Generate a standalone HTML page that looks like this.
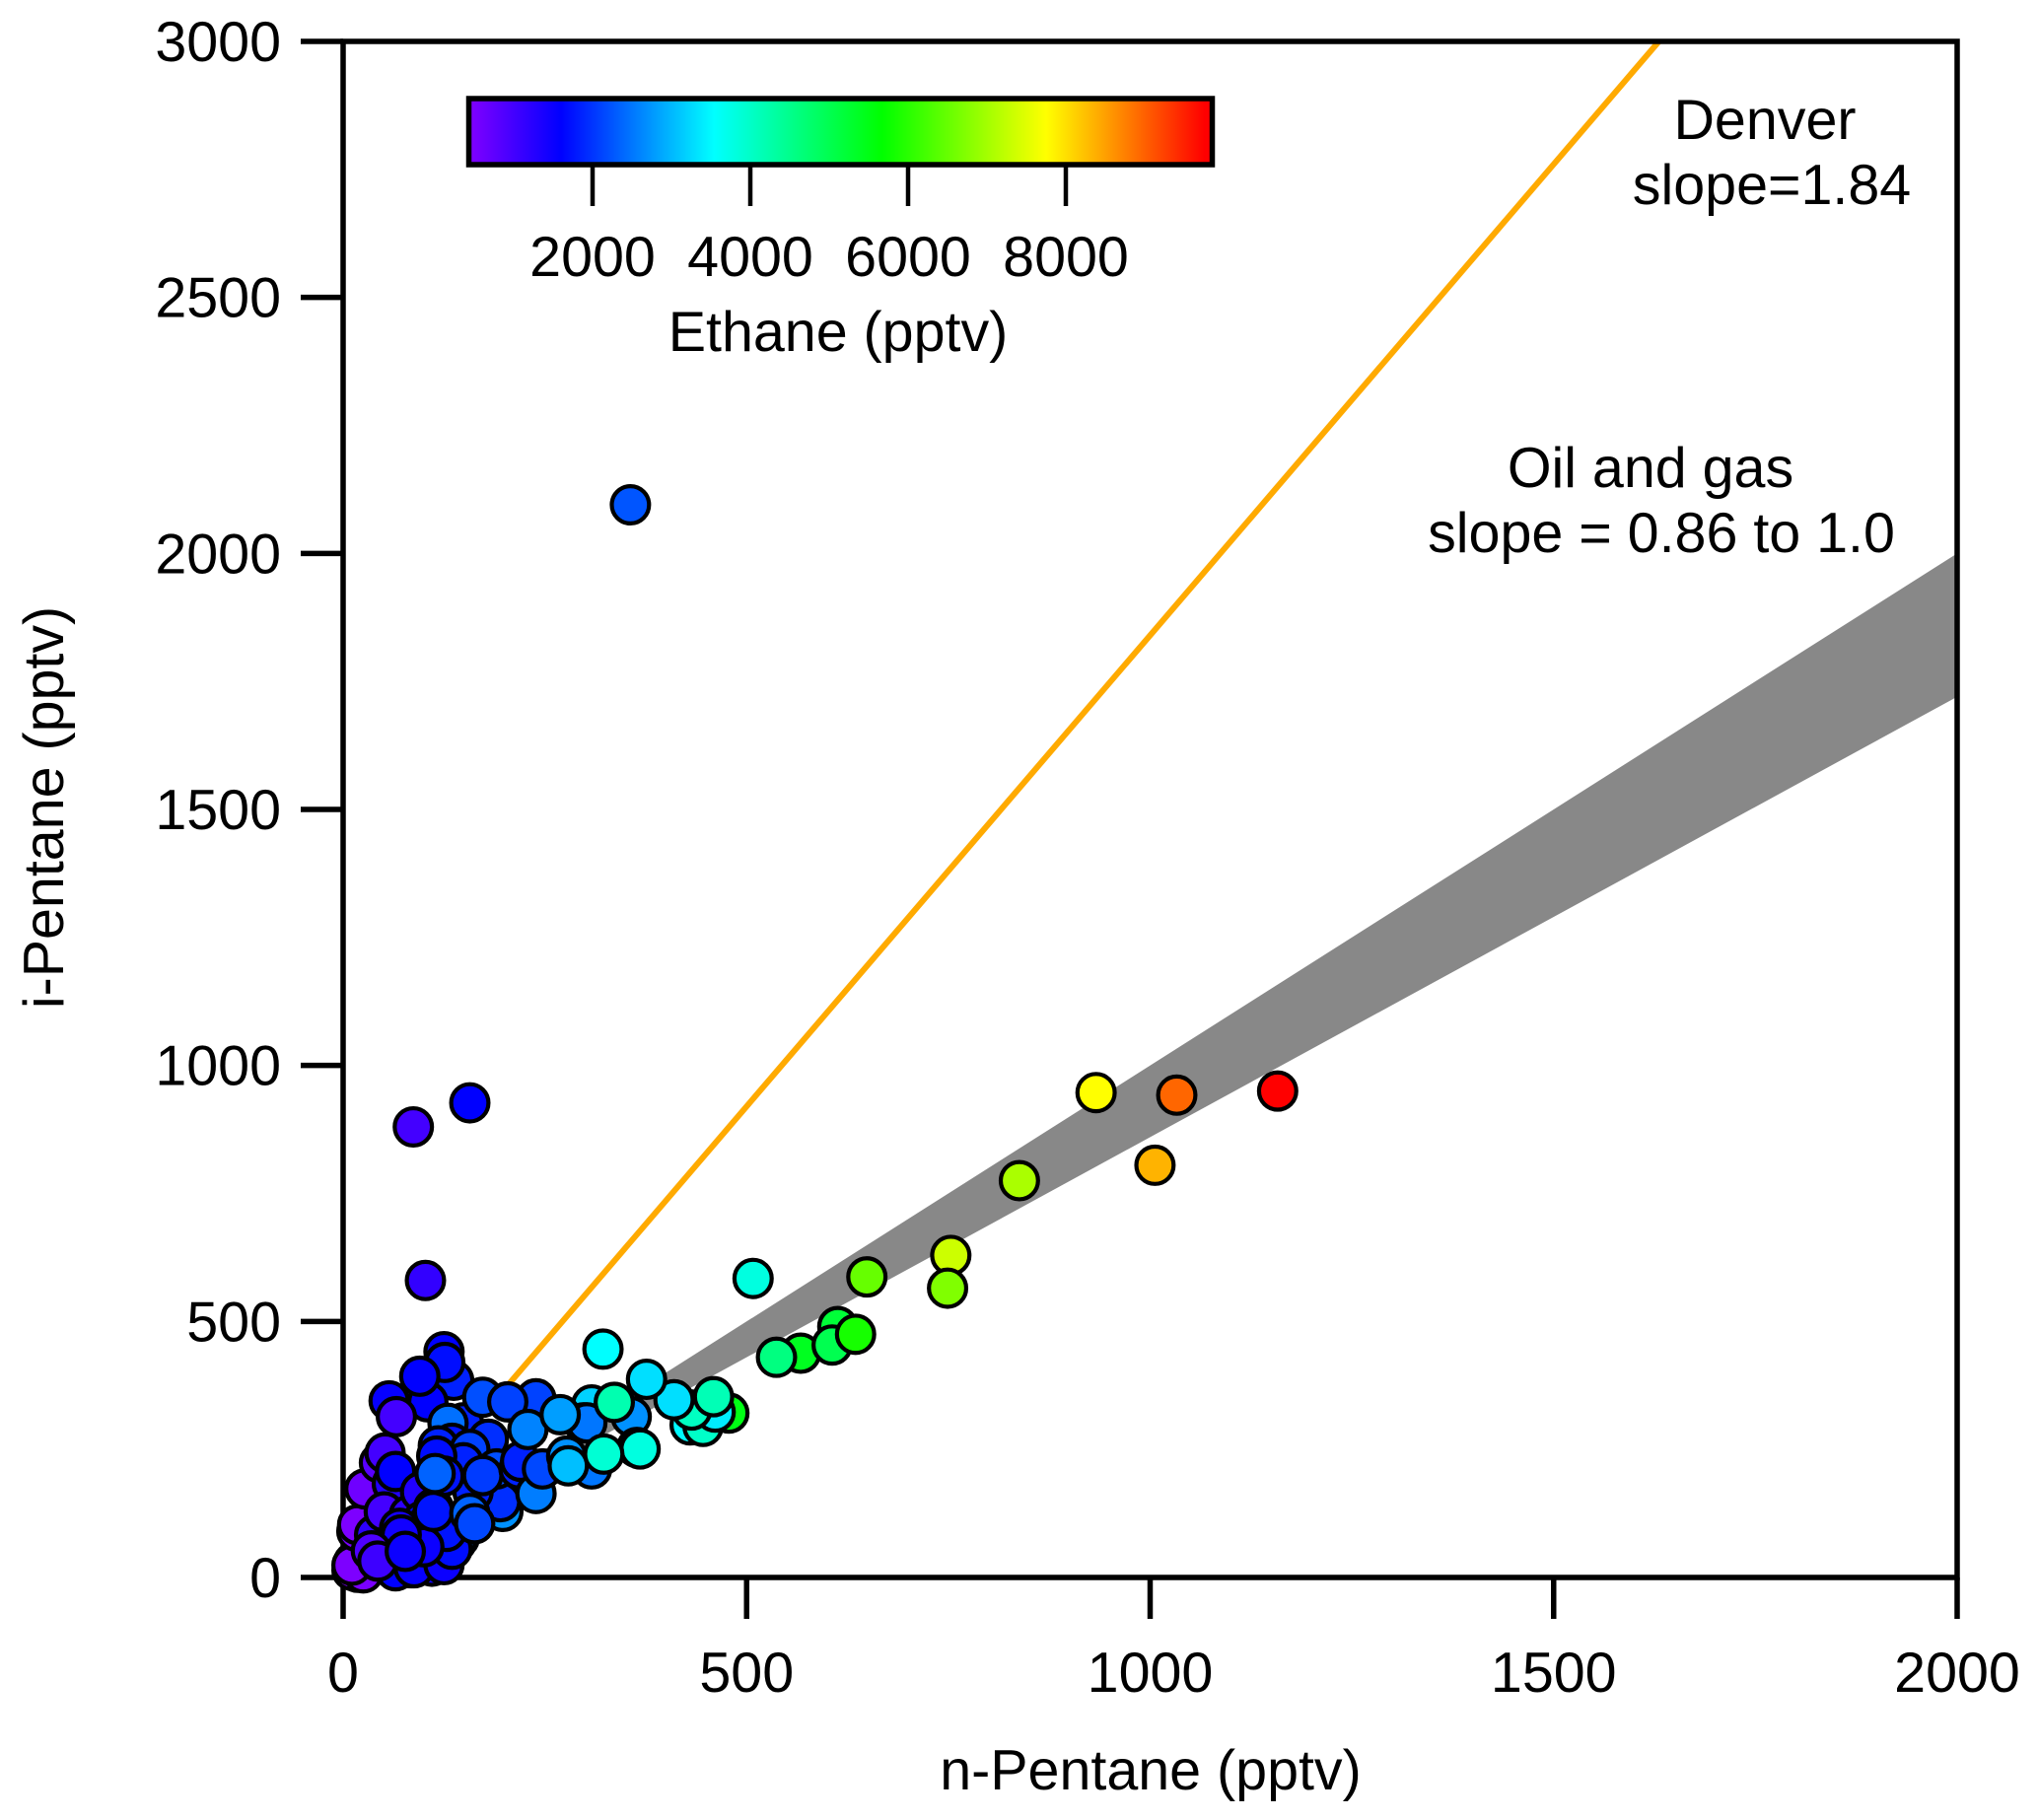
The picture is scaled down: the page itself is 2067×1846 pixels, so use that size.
<!DOCTYPE html>
<html lang="en">
<head>
<meta charset="utf-8">
<title>i-Pentane vs n-Pentane</title>
<style>
html,body{margin:0;padding:0;background:#fff;width:2067px;height:1846px;overflow:hidden}
svg{display:block;font-family:"Liberation Sans",Arial,sans-serif;font-size:57.4px;fill:#000}
</style>
</head>
<body>
<svg id="chart" xmlns="http://www.w3.org/2000/svg" width="2067" height="1846" viewBox="0 0 2067 1846">
<defs>
<linearGradient id="rainbow" gradientUnits="userSpaceOnUse" x1="477" x2="1228" y1="0" y2="0"></linearGradient>
<clipPath id="plot-clip"><rect x="348" y="42" width="1637" height="1558"/></clipPath>
</defs>
<g id="series-bg" clip-path="url(#plot-clip)"></g>
<g id="axes"></g>
<g id="points"></g>
<g id="cbar"></g>
<text x="1167" y="1815" text-anchor="middle">n-Pentane (pptv)</text>
<text transform="translate(64,819) rotate(-90)" text-anchor="middle">i-Pentane (pptv)</text>
<text x="850" y="356" text-anchor="middle">Ethane (pptv)</text>
<text x="1790" y="141" text-anchor="middle">Denver</text>
<text x="1797" y="207" text-anchor="middle">slope=1.84</text>
<text x="1674" y="494" text-anchor="middle">Oil and gas</text>
<text x="1685" y="560" text-anchor="middle">slope = 0.86 to 1.0</text>
</svg>
<script>
const xTicks = [0, 500, 1000, 1500, 2000];
const yTicks = [0, 500, 1000, 1500, 2000, 2500, 3000];
const colorTicks = [2000, 4000, 6000, 8000];
const denverSlope = 1.84;
const oilGasSlopes = [0.86, 1.0];
const colorValues = [450, 1600, 3540, 5670, 7750, 9760, 9835];
const colorNames = ['#8000ff', '#0000ff', '#00ffff', '#00ff00', '#ffff00', '#ff0000', '#ff0000'];
const nPentane = [
18,11,25,13,11,17,18,27,45,52,
61,65,39,51,82,96,110,84,67,125,
65,88,125,120,110,116,144,140,98,104,
135,128,100,
70,112,112,198,185,195,161,
125,137,126,57,105,95,66,149,130,173,
239,204,180,135,118,157,149,116,190,173,
218,125,114,220,239,247,308,277,279,229,
308,298,302,269,357,364,368,323,336,322,
478,430,446,461,432,410,376,459,
157,163,72,35,43,77,508,649,753,749,
613,567,537,606,635,838,933,1006,1033,1158,356,157,87,102
];
const iPentane = [
10,14,9,30,24,90,103,173,224,243,
183,207,83,128,122,167,22,19,19,52,
13,19,25,71,71,77,77,68,110,103,
55,90,60,
96,135,129,129,154,148,167,
441,385,420,345,343,393,314,302,301,352,
349,343,270,262,257,250,224,237,212,199,
212,198,203,227,164,212,212,237,218,289,
337,302,302,318,314,254,251,241,342,446,
321,298,295,323,327,347,387,353,
125,105,83,52,32,51,584,587,629,565,
490,438,430,454,475,775,947,805,942,950,2095,927,880,580
];
const ethane = [
450,450,500,480,480,520,480,600,800,1000,
1300,1600,1200,1000,1200,1300,1450,1550,1600,1500,
1600,1550,1500,1700,1800,1850,2400,2450,1600,1800,
1700,1750,1500,
1400,1700,1750,2700,1850,1950,1850,
1600,1850,1700,1550,1600,1600,1000,1850,2450,2200,
2100,2100,1950,1750,1850,2100,1850,1700,2200,2050,
1850,1750,2350,1850,2550,2150,2500,2700,3050,2600,
3200,2500,2500,2800,2700,3400,3800,3900,4200,3540,
5500,3500,4000,3400,4050,3300,3300,4150,
2350,2150,1450,900,1050,1500,3800,6500,7330,6710,
5200,5400,4600,5000,5850,7060,7750,8350,8956,9760,2250,1600,1000,1150
];

const SVGNS = 'http://www.w3.org/2000/svg';
const px = v => 348 + v * 1637 / 2000;
const py = v => 1600 - v * 1558 / 3000;
const cx = v => 601 + (v - 2000) * 0.08;

function hexToRgb(h){return [1,3,5].map(i=>parseInt(h.substr(i,2),16));}
function colorFor(v){
  if(v<=colorValues[0]) return colorNames[0];
  for(let i=1;i<colorValues.length;i++){
    if(v<=colorValues[i]){
      const t=(v-colorValues[i-1])/(colorValues[i]-colorValues[i-1]);
      const a=hexToRgb(colorNames[i-1]),b=hexToRgb(colorNames[i]);
      return 'rgb('+a.map((c,k)=>Math.round(c+(b[k]-c)*t)).join(',')+')';
    }
  }
  return colorNames[colorNames.length-1];
}
function make(tag,parent,attrs,text){
  const el=document.createElementNS(SVGNS,tag);
  for(const k in attrs) el.setAttribute(k,attrs[k]);
  if(text!==undefined) el.textContent=text;
  parent.appendChild(el);
  return el;
}

const bg=document.getElementById('series-bg');
const band=make('polygon',bg,{points:[px(0)+','+py(0),px(2000)+','+py(2000*oilGasSlopes[1]),px(2000)+','+py(2000*oilGasSlopes[0])].join(' '),fill:'#888888'});


const denver=make('line',bg,{x1:px(0),y1:py(0),x2:px(3000/denverSlope),y2:py(3000),stroke:'#ffaa00','stroke-width':6});



const axes=document.getElementById('axes');
const frame=make('rect',axes,{x:348,y:42,width:1637,height:1558,fill:'none',stroke:'#000','stroke-width':5.5});


xTicks.forEach(t=>{
  const tick=make('line',axes,{x1:px(t),x2:px(t),y1:1600,y2:1642,stroke:'#000','stroke-width':5.5});
  
  
  const label=make('text',axes,{x:px(t),y:1716,'text-anchor':'middle'},String(t));
  
  
});
yTicks.forEach(t=>{
  const tick=make('line',axes,{x1:305,x2:348,y1:py(t),y2:py(t),stroke:'#000','stroke-width':5.5});
  
  
  const label=make('text',axes,{x:285,y:py(t)+20,'text-anchor':'end'},String(t));
  
  
});

const pts=document.getElementById('points');
nPentane.forEach((x,i)=>{
  const c=make('circle',pts,{cx:px(x),cy:py(iPentane[i]),r:18.9,fill:colorFor(ethane[i]),stroke:'#000','stroke-width':4.2});
  
  
});

const grad=document.getElementById('rainbow');
colorValues.forEach((v,i)=>{
  make('stop',grad,{offset:(cx(v)-477)/(1228-477),'stop-color':colorNames[i]});
});
const cbar=document.getElementById('cbar');
const bar=make('rect',cbar,{x:475.5,y:100,width:754,height:67,fill:'url(#rainbow)',stroke:'#000','stroke-width':5.5});


colorTicks.forEach(t=>{
  const tick=make('line',cbar,{x1:cx(t),x2:cx(t),y1:169,y2:209,stroke:'#000','stroke-width':4.5});
  
  
  const label=make('text',cbar,{x:cx(t),y:280,'text-anchor':'middle'},String(t));
  
  
});
</script>
</body>
</html>
